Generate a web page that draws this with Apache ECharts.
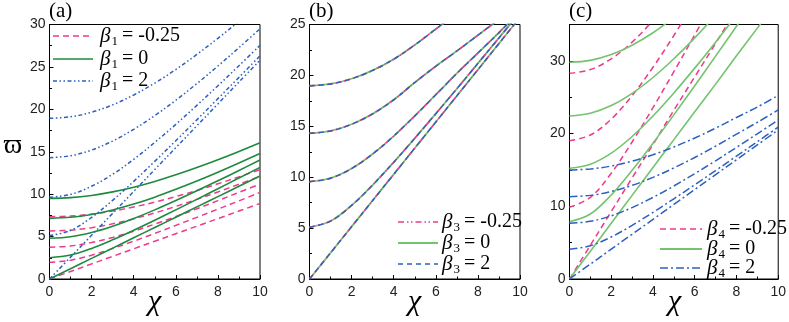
<!DOCTYPE html>
<html><head><meta charset="utf-8">
<script src="https://cdn.jsdelivr.net/npm/echarts@6/dist/echarts.min.js"></script>
<style>html,body{margin:0;padding:0;background:#fff}#c{width:789px;height:322px}</style>
</head><body><div id="c"></div>
<script>
// ---------- data ----------
const chi = [0,1,2,3,4,5,6,7,8,9,10];
const xTicks = [0,2,4,6,8,10];
// panel (a)
const aPink1 = [0,0.89,1.78,2.67,3.56,4.45,5.34,6.23,7.12,8.01,8.9];
const aPink2 = [1.97,2.21,2.81,3.59,4.46,5.37,6.32,7.27,8.24,9.21,10.2];
const aPink3 = [3.74,3.89,4.30,4.90,5.64,6.47,7.36,8.28,9.24,10.21,11.2];
const aPink4 = [5.66,5.76,6.05,6.50,7.09,7.78,8.56,9.39,10.26,11.17,12.1];
const aPink5 = [7.35,7.42,7.65,8.01,8.49,9.06,9.72,10.44,11.22,12.04,12.9];
const aGreen1 = [0,1.21,2.43,3.64,4.86,6.07,7.28,8.50,9.71,10.93,12.14];
const aGreen2 = [2.51,2.82,3.60,4.62,5.75,6.93,8.15,9.39,10.64,11.90,13.16];
const aGreen3 = [4.8,4.98,5.48,6.22,7.13,8.15,9.25,10.40,11.58,12.79,14.03];
const aGreen4 = [7.15,7.27,7.61,8.14,8.83,9.65,10.57,11.55,12.59,13.68,14.80];
const aGreen5 = [9.5,9.59,9.85,10.27,10.82,11.50,12.28,13.14,14.06,15.04,16.07];
const aBlue1 = [0,2.58,5.16,7.74,10.32,12.9,15.48,18.06,20.64,23.22,25.8];
const aBlue2 = [5.1,5.72,7.26,9.27,11.51,13.87,16.30,18.76,21.26,23.77,26.30];
const aBlue3 = [9.63,9.97,10.93,12.35,14.11,16.10,18.23,20.47,22.78,25.14,27.54];
const aBlue4 = [14.3,14.53,15.20,16.26,17.64,19.26,21.07,23.03,25.11,27.27,29.50];
const aBlue5 = [18.94,19.12,19.66,20.53,21.69,23.09,24.69,26.47,28.37,30.39,32.5];
// panel (b)  (the three beta3 families overlap)
const bMode0 = [0,2.57,5.14,7.71,10.28,12.85,15.42,17.99,20.56,23.13,25.7];
const bMode1 = [5.08,5.69,7.23,9.23,11.47,13.82,16.24,18.69,21.18,23.68,26.2];
const bMode2 = [9.56,9.90,10.85,12.28,14.04,16.02,18.1,20.2,22.2,24.2,26.3];
const bMode3 = [14.31,14.54,15.2,16.22,17.6,19.3,20.9,22.4,23.95,25.5,27.05];
const bMode4 = [18.99,19.16,19.67,20.49,21.59,22.99,24.55,26.1,27.6,29.1,30.6];
// panel (c)
const cPink0 = [0,4.64,9.27,13.9,18.5,23.2,27.8,32.4,37.1,41.7,46.4];
const cPink1 = [9.86,11.22,14.55,18.84,23.56,28.51,33.58,38.7,43.9,49,54];
const cPink2 = [19.02,19.8,21.99,25.21,29.12,33.49,38.2,42.9,47.6,52,57];
const cPink3 = [28.29,28.8,30.27,32.57,35.55,38.9,42.5,46,50,54,58];
const cGreen0 = [0,3.83,7.67,11.5,15.33,19.17,23.0,26.8,30.7,34.5,38.3];
const cGreen1 = [7.88,8.94,11.56,14.94,18.67,22.57,26.58,30.65,34.75,38.9,42.9];
const cGreen2 = [15.22,15.77,17.30,19.6,22.42,25.59,29.0,32.57,36.27,40.1,44];
const cGreen3 = [22.42,22.79,23.85,25.53,27.71,30.29,33.16,36.27,39.5,42.8,46.1];
const cGreen4 = [29.8,30.07,30.86,32.15,33.86,35.94,38.0,40.3,42.6,45,47.4];
const cBlue0 = [0,2.05,4.1,6.15,8.2,10.25,12.3,14.35,16.4,18.45,20.5];
const cBlue1 = [4.08,4.57,5.78,7.38,9.16,11.03,12.96,14.91,16.9,18.89,20.9];
const cBlue2 = [7.66,7.93,8.69,9.82,11.22,12.79,14.49,16.26,18.10,19.97,21.88];
const cBlue3 = [11.32,11.50,12.04,12.88,13.98,15.27,16.71,18.27,19.92,21.55,23.25];
const cBlue4 = [14.99,15.13,15.54,16.20,17.09,18.16,19.39,20.75,22.21,23.65,25.25];
// legends
const legA = ['-0.25','0','2'];
const legB = ['-0.25','0','2'];
const legC = ['-0.25','0','2'];

// ---------- styles ----------
const PINK = '#ee3a8c', GREEN_D = '#1d8a3e', GREEN_L = '#74c36f', BLUE = '#2e60c0';
const DASH = [6,4], DDOT = [4,2.5,1.5,2.5,1.5,2.5], DDOT2 = [6,3,1.5,2.5,1.5,3], DDOTC = [8,3,2,3];

const grids = [49.5, 309.5, 569.5].map(l => ({left:l, top:24.5, width:210.5, height:254.5, show:true, borderColor:'#000', borderWidth:1, backgroundColor:'transparent'}));
const lab = {color:'#222', fontFamily:'Liberation Sans, Arial', fontSize:14};
const xAxes = [0,1,2].map(i => ({type:'value', gridIndex:i, min:0, max:10, interval:2,
  axisLine:{show:true, lineStyle:{color:'#000', width:1}},
  axisTick:{show:true, inside:true, length:4, lineStyle:{color:'#000'}},
  minorTick:{show:true, splitNumber:2, length:2.5, lineStyle:{color:'#000'}},
  splitLine:{show:false}, axisLabel:Object.assign({margin:6}, lab)}));
const yMax = [30,25,35], yInt = [5,5,10];
const yAxes = [0,1,2].map(i => ({type:'value', gridIndex:i, min:0, max:yMax[i], interval:yInt[i],
  axisLine:{show:true, lineStyle:{color:'#000', width:1}},
  axisTick:{show:true, inside:true, length:4, lineStyle:{color:'#000'}},
  minorTick:{show:true, splitNumber:2, length:2.5, lineStyle:{color:'#000'}},
  splitLine:{show:false}, axisLabel:Object.assign({margin:4, showMaxLabel: i!==2}, lab)}));

function S(idx, vals, color, dash, width, z){
  return {type:'line', xAxisIndex:idx, yAxisIndex:idx, data: chi.map((c,k)=>[c, vals[k]]),
    symbol:'none', smooth:0.35, clip:true, z: z||2, silent:true,
    lineStyle:{color, width: width||1.5, type: dash||'solid'}};
}
const series = [];
[aPink1,aPink2,aPink3,aPink4,aPink5].forEach(v=>series.push(S(0,v,PINK,DASH,1.5)));
[aGreen1,aGreen2,aGreen3,aGreen4,aGreen5].forEach(v=>series.push(S(0,v,GREEN_D,'solid',1.6)));
[aBlue1,aBlue2,aBlue3,aBlue4,aBlue5].forEach(v=>series.push(S(0,v,BLUE,DDOT,1.5)));
[bMode0,bMode1,bMode2,bMode3,bMode4].forEach(v=>series.push(S(1,v,GREEN_L,'solid',1.8,2)));
[bMode0,bMode1,bMode2,bMode3,bMode4].forEach(v=>series.push(S(1,v,PINK,DDOT2,1.5,3)));
[bMode0,bMode1,bMode2,bMode3,bMode4].forEach(v=>series.push(S(1,v,BLUE,[5,4],1.4,4)));
[cPink0,cPink1,cPink2,cPink3].forEach(v=>series.push(S(2,v,PINK,DASH,1.5)));
[cGreen0,cGreen1,cGreen2,cGreen3,cGreen4].forEach(v=>series.push(S(2,v,GREEN_L,'solid',1.6)));
[cBlue0,cBlue1,cBlue2,cBlue3,cBlue4].forEach(v=>series.push(S(2,v,BLUE,DDOTC,1.5)));

// ---------- text / legend graphics ----------
const g = [];
function T(x,y,text,font,align){ g.push({type:'text', x, y, silent:true, style:{text, font, fill:'#000', align: align||'left', verticalAlign:'middle'}}); }
function legendRow(x0,x1,gap,y,color,dash,width,sub,val){
  g.push({type:'line', silent:true, shape:{x1:x0,y1:y,x2:x1,y2:y}, style:{stroke:color, lineWidth:width, lineDash: dash==='solid'?null:dash}});
  const tx = x1 + gap;
  T(tx, y, 'β', 'italic 21px "Liberation Serif"');
  T(tx+11.5, y+6, sub, '13px "Liberation Serif"');
  T(tx+22, y, '= ' + val, '20px "Liberation Serif"');
}
legendRow(53,93,7,36,PINK,DASH,1.5,'1',legA[0]);
legendRow(53,93,7,59,GREEN_D,'solid',1.6,'1',legA[1]);
legendRow(53,93,7,81,BLUE,DDOT,1.5,'1',legA[2]);
legendRow(398,438,4,222,PINK,DDOT2,1.5,'3',legB[0]);
legendRow(398,438,4,243,GREEN_L,'solid',1.8,'3',legB[1]);
legendRow(398,438,4,264,BLUE,[5,4],1.5,'3',legB[2]);
legendRow(660,702,5,229,PINK,DASH,1.5,'4',legC[0]);
legendRow(660,702,5,249,GREEN_L,'solid',1.8,'4',legC[1]);
legendRow(660,702,5,268,BLUE,DDOTC,1.5,'4',legC[2]);
T(49,11,'(a)','21px "Liberation Serif"');
T(309,11,'(b)','21px "Liberation Serif"');
T(569,11,'(c)','21px "Liberation Serif"');
T(13,146,'ϖ','28px "Liberation Serif"','center');
[154.5, 414.5, 674.5].forEach(x=>T(x,302,'χ','italic 30px "Liberation Serif"','center'));

const chart = echarts.init(document.getElementById('c'), null, {renderer:'canvas'});
chart.setOption({animation:false, backgroundColor:'#fff', grid:grids, xAxis:xAxes, yAxis:yAxes, series, graphic:g});
</script></body></html>
